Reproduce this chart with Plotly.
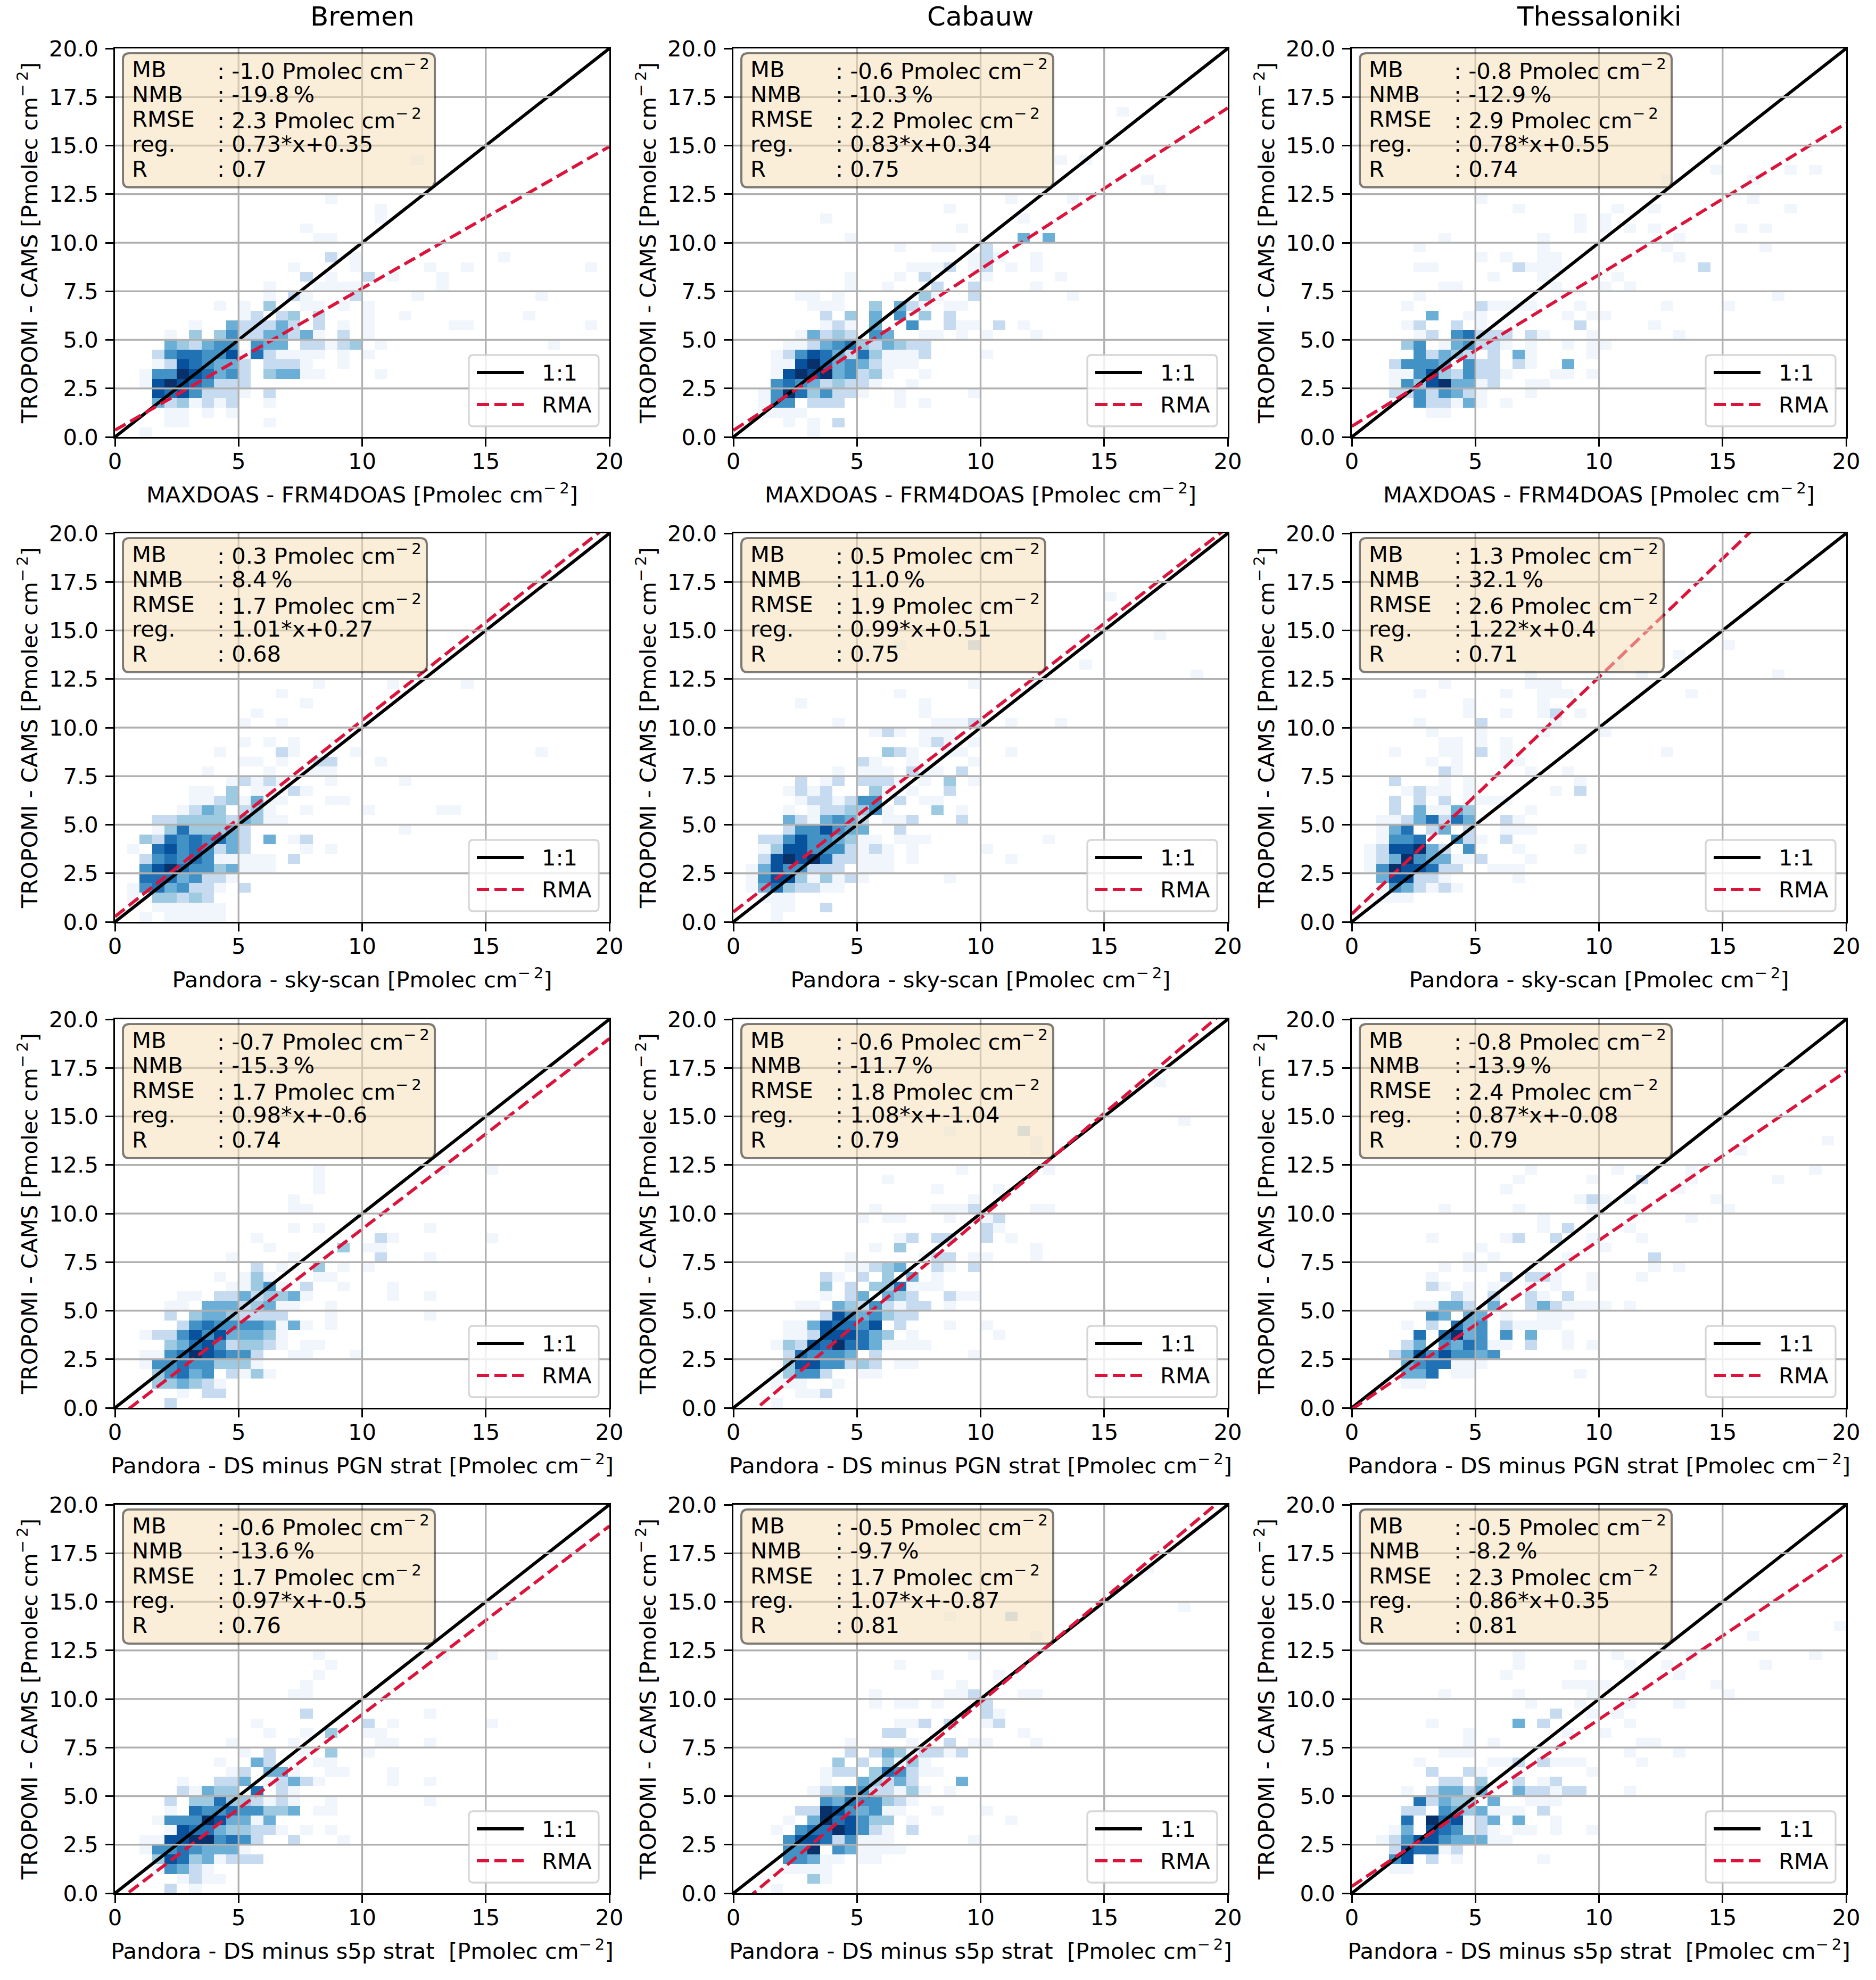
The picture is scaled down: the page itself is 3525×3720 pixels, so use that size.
import plotly.graph_objects as go

FONT = "DejaVu Sans"
W, H = 3525, 3720
FS = 41.7          # 10 pt at 300 dpi
FS_TITLE = 50      # 12 pt

SITES = ["Bremen", "Cabauw", "Thessaloniki"]
REFERENCES = [
    "MAXDOAS - FRM4DOAS",
    "Pandora - sky-scan",
    "Pandora - DS minus PGN strat",
    "Pandora - DS minus s5p strat\u00a0",
]
SUP = "\u2212\u20092"
CM2 = f"cm<sup>{SUP}</sup>"

# statistics, one row per reference, one column per site
MB = [[-1.0, -0.6, -0.8], [0.3, 0.5, 1.3], [-0.7, -0.6, -0.8], [-0.6, -0.5, -0.5]]
NMB = [[-19.8, -10.3, -12.9], [8.4, 11.0, 32.1], [-15.3, -11.7, -13.9], [-13.6, -9.7, -8.2]]
RMSE = [[2.3, 2.2, 2.9], [1.7, 1.9, 2.6], [1.7, 1.8, 2.4], [1.7, 1.7, 2.3]]
SLOPE = [[0.73, 0.83, 0.78], [1.01, 0.99, 1.22], [0.98, 1.08, 0.87], [0.97, 1.07, 0.86]]
INTERCEPT = [[0.35, 0.34, 0.55], [0.27, 0.51, 0.4], [-0.6, -1.04, -0.08], [-0.5, -0.87, 0.35]]
R = [[0.7, 0.75, 0.74], [0.68, 0.75, 0.71], [0.74, 0.79, 0.79], [0.76, 0.81, 0.81]]

X_TICKS = [0, 5, 10, 15, 20]
Y_TICKS = [0, 2.5, 5, 7.5, 10, 12.5, 15, 17.5, 20]
AXIS_MAX = 20
BIN = 0.5
NBINS = 40

# 2D histogram density, 0.5 x 0.5 bins.
# one line per y-bin (top line = highest bin given, last line = 0-0.5),
# one char per x-bin starting at 0 (spaces only mark every 5 units),
# '.' = empty, 1..9 = colour level (1 lightest, 9 darkest)
BREMEN_MAXDOAS = """
.......... .......... ....1.....
.
.
.
.......... .......1..
.......... .......... .1........
.......... .......... .1........
.......... .....1....
.......... ......11..
.
.......... .......3.1 .......... .1........
.......... ....1....1 .....1..1. ........1.
.......... .....3.1.. 3.1...1...
.......... ..1...1111 ......1...
.......... ..1.31...3 ....1..... ....1.....
........1. 1.4..11.1. 1.........
.......... 13.34.3... 1..1...... ...1......
......1..5 33353.3.1. 1......11. ........1.
....1.4.46 3355351.3. 1.........
....543566 .655.33134 .1........ .....1....
...3677668 1731111.1. 1.........
...1387655 3.3331..1.
..16698756 3.45511... .1........
..18987633 3.........
...8786333 1.3.......
...5341313 ..1.......
....11.1.1
....11.... ..1.......
..1.......
"""

CABAUW_MAXDOAS = """
.......... .......... .......... .1........
.
.
.
.
.......... .......... ......1.1.
.
.......... .......... .......... ...1......
.......... .......... .......... ....1.....
.......... .......... ..1....1..
.......... .......1..
.......1.. .......... ...1......
.......... ........1.
.........1 .......... ...5.5....
.......... ...1..11.. 3.........
.......... .........1 31..1.....
.......... ....1113.1 3.1.1.....
.........1 ...1.3.... 1.....1...
.........1 ..1...3..3 ....1.....
.....11.1. .....41..3 .......1..
......111. .4.531.11.
.......3.4 .5.6.4.3..
.......131 .5..6..311 .3.1......
.....15343 .65..11.1. 1...1.....
....113567 435433....
...1368753 741113.... 1.........
...1189756 53111.....
...1898956 341..1....
...6765343 31..1.....
..16974633 1..1.....1
..166.333. ...1.1....
..1111....
....1.1.3.
......1...
"""

THESSALONIKI_MAXDOAS = """
.......... .......... .........1 .....1.1..
.......... .......... .....1.... ..1.......
.
.......... 1......... .......... ..1.......
.......... ...1...... .1..1..... .....1....
.......... ........1. 1.........
.......... ........1. 1.1.1..... .1.1......
.......1.. .....1.... ......1...
.....1.... .....1.... .....1.... ...1......
.......... 1.1..11... ......1...
.....11... ...3111... ........3.
.......... .1...1.... .1........
.......11. ......1... 1.1.......
.....1.... .......... .......... ....1.....
....1..... 31111...1. .....1.... 1.........
......5..1 1......1.1 1.........
....13..3. 1.......3. ....1.....
.....13.67 333.31...1 ......1...
....46.156 331.1..1.1 1.........
.....63543 .3.51....1
...36665.6 33.31..5..
...1168436 331...11.1
...1648955 13..11....
...3363653 1...1.....
.....63315 1.1.......
......11..
.
.
"""

BREMEN_SKYSCAN = """
.......... ......1... ..1.....1.
.......... ...1......
.......... .....1....
.......... .1........
.......... 1..1......
.
.......... 1.1.1.....
........1. ...31....1 .......... ....1.....
.......... 11.1..33.. .1........
.......1.. ..1..111..
.........1 3131...1.. ...1......
......11.4 .11.31....
......1134 1511...11.
.....1354. 341..1.... 1.....11..
...3344443 5411......
...1474445 3......... ...1......
..43767675 3.5.13....
.1.7867635 3....1.1..
..36767611 111.3.....
..68976645 111.......
..77756331
.16756331. 3.........
.1.44343..
...111111.
..1.11111.
"""

CABAUW_SKYSCAN = """
.......... .......... .......... 1.........
.
.
.
.......... .......... .......... ....1.....
.......... ...1.....3
.
.......... .......... ........1.
.......... .......... .......... .......1..
.......... .........1 ....1.....
.......... ...1......
.....1.... .....1....
.......... .....1....
........1. ......1113 ..1...1...
.......... .131.111..
.......... .....131.1
.......... ..431..11. ..1.......
.......... 31..1....1
........1. 111.311.3.
.....3.13. 3331.1.4.1
....1313.. .41.1..3..
.....13313 66.3.11...
....1.1334 461...4.1.
....531565 3.113...3.
....366865 5..3......
..33686654 11.111.... .....1....
..14886663 131.1..... 1.........
..38989733 111.1..... ..1.......
.15866333. 111.......
.168841413 1......1..
.15743311.
..111.....
...11..3..
...1......
"""

THESSALONIKI_SKYSCAN = """
.......... .......... .......... 1.........
.......... .......... ......1...
.......... .......... .1........
.......... ....1..... ...1...... ....1.....
.......1.. ....111...
.....1.... ..1..111.. .......1..
.........1 .....1....
.........1 ..1..13.1.
.....1.... 3.....1...
......1... 1....1.... 1.........
.......11. 1.1.......
...1...11. 3.1....... .....1....
......1.1. ..11......
.......31. ....1..1..
...3...1.1 ........1.
....1311.1 ......1.3.
...3.3.3.1 111.......
...3.51154 ....1.....
..11357375 ..31......
..157.35.3 ..111.....
..1667..63 1.3.......
.1388953.6 ...1....1.
.135965511 3...1.....
.16988733. .111......
..588331.. ...1......
..1653131.
..111.....
.
.
"""

BREMEN_PGN = """
.......... ......1... ......1... 1.........
.......... ......1...
.......... ......1...
.......... ....1.....
.......... ....11....
.
.......... ....1.1... .....1....
.......... .1........ .31....... 1.........
.......... ..1.....4. 11........
.........1 ....1..... .3...1....
.......... .3.1..4.1. 1.........
........1. 141...11..
.........1 1461.3..1. ..1.......
.....11.33 534451.... ..1..1....
....11.555 34511..1..
....3.4554 3333...1.. .....1....
.....36766 665151.1..
..13368685 5541......
....457863 4431.11...
..11679876 63..11...1
..16676644 41........
...46756.3 141.......
...445431.
.....1.33.
....3.....
"""

CABAUW_PGN = """
.......... .......... .......... ....1.....
.
.
.
.......... .......... .......... ......1...
.......... .......1.. ...3......
.......... .......... ....1.....
.......... .......... ....1.....
.
.......... ........1. .....1....
.......... ..1.......
.......... ......1... .1........
.......... .........1
.......... .1....1113 ....11....
.......... 1.11...1.. 13........
.......... .......... 31........
.......... ...13.33.. 3.1.......
.......... .1.4...... ....1.....
.........1 .....133.1 1...1.....
.........1 1345..31.3
.......31. 3.4.5.1...
.......4.3 .447111...
.......1.3 5.543..311
.....11.54 363133.1..
.......386 56433.....
....115877 68.3...1.. 1.........
....113888 754.1..... .1........
...1438797 751111....
....376665 .3.......1
....488663 43.11.....
...14663.. 11........
...111..1.
.....113..
...1......
"""

THESSALONIKI_PGN = """
.......... .......... .......... ........1.
.......... .......... .......... .1........
.
.......... ....1..... .1.....1.. .......1..
.......... ...1.....1 ...3...1.. ....1.....
.......... ..1....... ......1...
.......... ........13 1.1......1
.......1.. ...1.....1 .......... 1.........
.......... .....1.... .......1..
.......... .....1.3.. ..1.......
......1... ..13..3..1 ...1......
.......... 1......... 1.........
.........1 .1.....1.. ....3.....
.......1.1 1......... ....1.1...
......1... ..3.331..1 ...1......
......31.1 .1..1.1..1
........31 .3..31.3..
.....11553 .5..353111 1.1.......
......65.5 5.1..111..
....1.3.75 6.31111...
.....7.795 6.6.5..1..
....35.657 611.3..1.1
...3586866 56........
....567711 1.........
....557.11 ........1.
....11....
.
.
"""

BREMEN_S5P = """
.......... ......1... ......1... 1.........
.......... .......1..
.......... ......1...
.......... .....1....
.......... ....11....
.
.......... .....3.... .....1....
.......... .1........ 3.1....... 1.........
.......... ..1..1.4.. 11........
.........1 ....1..... .11..1....
.......... 1.3..1.4.. 1.........
........1. .53...11..
.........1 3.551..11. ..1.......
.....1..33 5.13531... ..1..1....
.....31544 .7.31.....
....3.4474 43131..1.. .....1....
....1.7667 66445.11..
...1666985 515.......
....187754 4331.1.1..
..11889967 63..3...1.
..16676555 1.........
...4874513 33........
...16531..
.....1311.
....3.1...
"""

CABAUW_S5P = """
.......... .......... .......... ...1......
.
.
.
.......... .......... .......... ......1...
.......... .......1.. ..3.......
.
.......... .......... ....1.....
.
.......... .........1
.......... ...1......
.......... ......1... .1........
.......... ........1.
.......... .1.....113 ...11.....
.......... .1.11.1... 3.........
.......... .......... 31........
.......... ...113.3.. 13........
.......... ..33...... ...1......
.........1 ....1..3.1 1...1.....
.........3 .35413313.
........4. 3.4141....
.......133 .476311...
.......1.. 54353...5.
......1346 633141.1..
.......657 66431.....
.....33986 5611..1... 1.........
....1.5978 644.1..... ..1.......
...1.67798 631.3.....
....688736 111......1
....669.65 1111......
....66511. 11........
....1111..
......41..
...1......
"""

THESSALONIKI_S5P = """
.......... .......... .......... .........1
.......... .......... .......... ..1.......
.
.......... ...1...... .1.....1.. .......1..
.......... ...1....1. ..1..1.... ...1......
.......... ..1....... ......1...
.......... .......111 1........1
.......1.. ...1.....1 .......... 1.........
.......... ....1...1. ..1...1...
.......... ......3..1 .1........
......1... ...5.3.... ..1.......
.........1 .......1.. 1.........
.........1 .1........ ...11.....
.......111 .......... ..1...1...
.....1.... .113.3111. ...1......
......3..3 1........1
.......33. 4..3.13...
....1.3553 5..533133. ..1.......
.....73544 .5..111...
....33.654 5111.3....
....7.9781 35.5..1...
...15.8761 31.11.1..1
..13688655 511.......
...387713.
...68.3.1. .....1....
...11.....
.
.
"""

GRIDS = [
    [BREMEN_MAXDOAS, CABAUW_MAXDOAS, THESSALONIKI_MAXDOAS],
    [BREMEN_SKYSCAN, CABAUW_SKYSCAN, THESSALONIKI_SKYSCAN],
    [BREMEN_PGN, CABAUW_PGN, THESSALONIKI_PGN],
    [BREMEN_S5P, CABAUW_S5P, THESSALONIKI_S5P],
]

BLUES = [
    [0.0, "#f0f6fc"], [0.125, "#deebf7"], [0.25, "#c6dbef"], [0.375, "#9ecae1"],
    [0.5, "#6baed6"], [0.625, "#4292c6"], [0.75, "#2171b5"], [0.875, "#08519c"],
    [1.0, "#08306b"],
]
RED = "#dc143c"
DASH = "23px,10px"

STAT_LABELS = ["MB", "NMB", "RMSE", "reg.", "R"]

# subplot placement in pixels
COL_LEFT = [216, 1378, 2540]
ROW_TOP = [91, 1002, 1915, 2827]
AX_W, AX_H = 929, 730

# DejaVu Sans advance widths (em), used to size the statistics box
CHAR_EM = {c: 0.636 for c in "0123456789"}
CHAR_EM.update({".": 0.318, "-": 0.361, " ": 0.318, ":": 0.337, "*": 0.5,
                "x": 0.592, "+": 0.838, "%": 0.95, "\u2009": 0.2, "P": 0.603,
                "m": 0.974, "o": 0.612, "l": 0.278, "e": 0.615, "c": 0.55,
                "\u2212": 0.838})


def em(s):
    return sum(CHAR_EM.get(ch, 0.6) for ch in s)


def parse_grid(text):
    lines = [ln.replace(" ", "") for ln in text.strip().splitlines()]
    z = [[None] * NBINS for _ in range(NBINS)]
    for i, ln in enumerate(lines):
        row = len(lines) - 1 - i
        for col, ch in enumerate(ln.ljust(NBINS, ".")):
            if ch != ".":
                z[row][col] = int(ch)
    return z


def px(x, y):
    return x / W, 1 - y / H


def rounded_path(x0, y0, x1, y1, r):
    pts = [
        ("M", x0 + r, y0), ("L", x1 - r, y0), ("Q", x1, y0, x1, y0 + r),
        ("L", x1, y1 - r), ("Q", x1, y1, x1 - r, y1), ("L", x0 + r, y1),
        ("Q", x0, y1, x0, y1 - r), ("L", x0, y0 + r), ("Q", x0, y0, x0 + r, y0),
    ]
    out = []
    for p in pts:
        coords = []
        for a, b in zip(p[1::2], p[2::2]):
            u, v = px(a, b)
            coords.append(f"{u:.6f},{v:.6f}")
        out.append(p[0] + " ".join(coords))
    return " ".join(out) + " Z"


fig = go.Figure()
annotations = []
grid_shapes, box_shapes = [], []
layout = {}

tick_font = dict(family=FONT, size=FS, color="black")
axis_common = dict(
    range=[0, AXIS_MAX], showgrid=False, zeroline=False, automargin=False,
    showline=True, mirror=True, linecolor="black", linewidth=3.3,
    ticks="outside", ticklen=14.6, tickwidth=3.3, tickcolor="black",
    tickfont=tick_font,
)

for i, ref in enumerate(REFERENCES):
    for j, site in enumerate(SITES):
        k = i * 3 + j + 1
        sfx = "" if k == 1 else str(k)
        xa, ya = "x" + sfx, "y" + sfx
        left, top = COL_LEFT[j], ROW_TOP[i]
        right, bottom = left + AX_W, top + AX_H

        fig.add_trace(go.Heatmap(
            z=parse_grid(GRIDS[i][j]), x0=BIN / 2, dx=BIN, y0=BIN / 2, dy=BIN,
            colorscale=BLUES, zmin=1, zmax=9, showscale=False,
            hoverinfo="skip", xaxis=xa, yaxis=ya,
        ))
        fig.add_trace(go.Scatter(
            x=[0, AXIS_MAX], y=[0, AXIS_MAX], mode="lines", name="1:1",
            line=dict(color="black", width=6), xaxis=xa, yaxis=ya, showlegend=False,
        ))
        xs = [0, AXIS_MAX]
        fig.add_trace(go.Scatter(
            x=xs, y=[SLOPE[i][j] * x + INTERCEPT[i][j] for x in xs],
            mode="lines", name="RMA", line=dict(color=RED, width=6, dash=DASH),
            xaxis=xa, yaxis=ya, showlegend=False,
        ))

        layout["xaxis" + sfx] = dict(
            axis_common, anchor=ya, tickvals=X_TICKS, ticklabelstandoff=-8,
            domain=[left / W, right / W],
            title=dict(text=f"{ref} [Pmolec {CM2}]", standoff=26,
                       font=dict(family=FONT, size=FS, color="black")),
        )
        layout["yaxis" + sfx] = dict(
            axis_common, anchor=xa, tickvals=Y_TICKS, tickformat=".1f",
            ticklabelstandoff=5,
            domain=[1 - bottom / H, 1 - top / H],
            title=dict(text=f"TROPOMI - CAMS [Pmolec {CM2}]", standoff=9,
                       font=dict(family=FONT, size=FS, color="black")),
        )

        # grid lines drawn over the histogram, as matplotlib does
        for v in X_TICKS[1:-1]:
            grid_shapes.append(dict(type="line", xref=xa, yref=ya + " domain",
                                    x0=v, x1=v, y0=0, y1=1, layer="above",
                                    line=dict(color="#b0b0b0", width=3.3)))
        for v in Y_TICKS[1:-1]:
            grid_shapes.append(dict(type="line", xref=xa + " domain", yref=ya,
                                    x0=0, x1=1, y0=v, y1=v, layer="above",
                                    line=dict(color="#b0b0b0", width=3.3)))

        # statistics box
        values = [
            (f"{MB[i][j]} Pmolec cm", SUP),
            (f"{NMB[i][j]}\u2009%", ""),
            (f"{RMSE[i][j]} Pmolec cm", SUP),
            (f"{SLOPE[i][j]}*x+{INTERCEPT[i][j]}", ""),
            (f"{R[i][j]}", ""),
        ]
        text_w = max(em(": " + m) * FS + em(s) * 0.7 * FS for m, s in values)
        box_shapes.append(dict(
            type="path", xref="paper", yref="paper", layer="above",
            path=rounded_path(left + 15, top + 9, left + 190 + text_w + 12, top + 261, 12),
            fillcolor="rgba(245,222,179,0.5)", line=dict(color="rgba(0,0,0,0.5)", width=4),
        ))
        for n, (lab, (m, s)) in enumerate(zip(STAT_LABELS, values)):
            yc = top + 54 + n * 46.7 - 14.4
            val = ": " + m + (f"<sup>{s}</sup>" if s else "")
            for tx, xp in ((lab, left + 30), (val, left + 190)):
                ux, uy = px(xp, yc)
                annotations.append(dict(
                    text=tx, xref="paper", yref="paper", x=ux, y=uy,
                    xanchor="left", yanchor="middle", showarrow=False,
                    font=dict(family=FONT, size=FS, color="black"),
                ))

        # legend
        lx0, ly0, lx1, ly1 = right - 264, bottom - 154, right - 20, bottom - 20
        box_shapes.append(dict(
            type="path", xref="paper", yref="paper", layer="above",
            path=rounded_path(lx0, ly0, lx1, ly1, 8),
            fillcolor="rgba(255,255,255,0.8)",
            line=dict(color="rgba(204,204,204,0.8)", width=3.3),
        ))
        for name, color, dash, ry in (("1:1", "black", "solid", bottom - 121),
                                      ("RMA", RED, DASH, bottom - 61)):
            ax0, ay = px(lx0 + 15, ry)
            ax1, _ = px(lx0 + 103, ry)
            box_shapes.append(dict(
                type="line", xref="paper", yref="paper", layer="above",
                x0=ax0, x1=ax1, y0=ay, y1=ay, line=dict(color=color, width=6, dash=dash),
            ))
            tx, ty = px(lx0 + 135, ry)
            annotations.append(dict(
                text=name, xref="paper", yref="paper", x=tx, y=ty,
                xanchor="left", yanchor="middle", showarrow=False,
                font=dict(family=FONT, size=FS, color="black"),
            ))

        if i == 0:
            annotations.append(dict(
                text=site, xref=xa + " domain", yref=ya + " domain",
                x=0.5, y=1, xanchor="center", yanchor="middle", yshift=60,
                showarrow=False, font=dict(family=FONT, size=FS_TITLE, color="black"),
            ))

fig.update_layout(
    width=W, height=H, margin=dict(l=0, r=0, t=0, b=0),
    paper_bgcolor="white", plot_bgcolor="white",
    font=dict(family=FONT, color="black"), showlegend=False,
    annotations=annotations, shapes=grid_shapes + box_shapes, **layout,
)

# page without the default 8px body margin, so the figure sits at the corner
fig.write_html(
    "out.html",
    config={"displayModeBar": False},
    post_script="document.body.style.margin = '0px';",
)
